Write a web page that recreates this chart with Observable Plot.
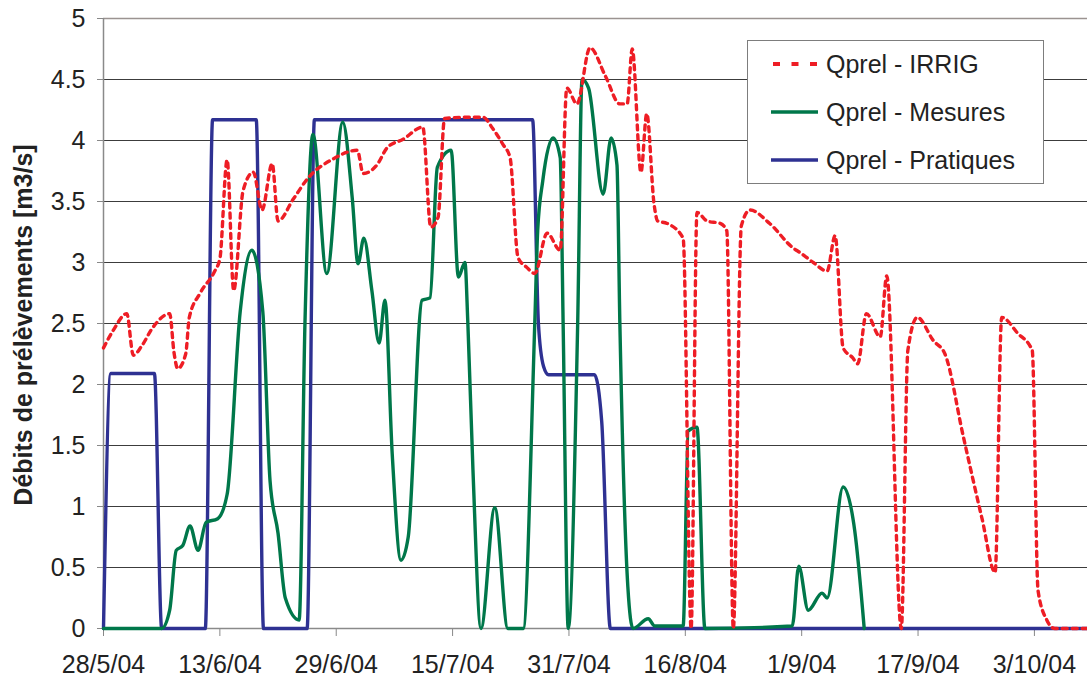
<!DOCTYPE html>
<html>
<head>
<meta charset="utf-8">
<script src="https://cdn.jsdelivr.net/npm/d3@7"></script>
<script src="https://cdn.jsdelivr.net/npm/@observablehq/plot@0.6"></script>
<style>
  html, body { margin: 0; padding: 0; background: #fff; }
  #wrap { position: relative; width: 1087px; height: 679px; font-family: "Liberation Sans", Arial, Helvetica, sans-serif; color: #222; }
  #wrap svg text { font-family: "Liberation Sans", Arial, Helvetica, sans-serif; }
  #wrap g[aria-label="x-axis tick"], #wrap g[aria-label="y-axis tick"] { stroke: #888; }
  #legend { position: absolute; left: 747px; top: 40px; width: 297px; height: 144px; box-sizing: border-box; border: 1.5px solid #7d7d7d; background: #fff; }
  #ylabel { position: absolute; left: 0; top: 0; }
</style>
</head>
<body>
<div id="wrap"></div>
<script>
// ---- data (day offsets from 28/5/2004, values in m3/s) ----
const startDate = "28/5/04";
const endDay = 135.3;

const xTickLabels = ["28/5/04", "13/6/04", "29/6/04", "15/7/04", "31/7/04", "16/8/04", "1/9/04", "17/9/04", "3/10/04"];
const yTicks = [0, 0.5, 1, 1.5, 2, 2.5, 3, 3.5, 4, 4.5, 5];

const seriesNames = ["Qprel - IRRIG", "Qprel - Mesures", "Qprel - Pratiques"];
const seriesColors = ["#EE1D25", "#00774A", "#2E3192"];

const irrigDays = [0, 1.3, 3.2, 4.1, 5.3, 6.7, 9.1, 9.7, 10.2, 11.3, 11.8, 13.3, 15.3, 16.0, 17.0, 17.9, 19.2, 20.6, 21.8, 23.2, 24.0, 26.1, 28.1, 31.6, 34.9, 35.7, 37.6, 39.0, 41.2, 43.9, 45.0, 46.0, 46.9, 49.7, 52.2, 53.5, 54.9, 55.9, 57.0, 58.2, 59.3, 61.0, 62.8, 63.7, 65.1, 66.9, 69.0, 71.0, 72.0, 72.7, 73.9, 74.7, 75.7, 76.2, 77.5, 79.7, 80.8, 81.6, 83.0, 84.8, 85.7, 86.6, 87.7, 88.9, 91.6, 94.8, 95.8, 97.6, 99.5, 100.6, 101.7, 103.0, 103.7, 104.9, 106.8, 107.7, 109.7, 110.6, 111.9, 114.1, 115.7, 118.2, 120.8, 122.6, 123.5, 125.7, 127.7, 128.5, 129.7, 130.8, 135.3];
const irrigValues = [2.3, 2.44, 2.58, 2.24, 2.32, 2.46, 2.58, 2.26, 2.13, 2.25, 2.55, 2.75, 2.93, 3.03, 3.84, 2.77, 3.59, 3.74, 3.43, 3.81, 3.34, 3.52, 3.69, 3.85, 3.92, 3.73, 3.8, 3.94, 4.01, 4.11, 3.29, 3.37, 4.18, 4.19, 4.19, 4.1, 3.97, 3.86, 3.04, 2.96, 2.91, 3.24, 3.1, 4.43, 4.3, 4.76, 4.53, 4.3, 4.3, 4.75, 3.74, 4.22, 3.48, 3.34, 3.32, 3.2, 0, 3.41, 3.34, 3.32, 3.26, 0, 3.3, 3.43, 3.32, 3.12, 3.08, 3.0, 2.93, 3.22, 2.3, 2.22, 2.17, 2.58, 2.39, 2.89, 0, 2.28, 2.55, 2.36, 2.25, 1.58, 0.9, 0.46, 2.55, 2.42, 2.28, 0.31, 0.07, 0, 0];

const mesuresDays = [0, 8.0, 9.1, 10.0, 10.9, 11.9, 13.0, 14.1, 15.7, 17.0, 18.8, 20.4, 21.9, 22.9, 24.0, 25.0, 26.9, 27.7, 28.8, 30.7, 32.9, 34.2, 35.0, 35.8, 36.9, 37.9, 38.7, 39.7, 40.9, 41.9, 43.8, 44.9, 45.9, 47.8, 48.8, 49.7, 50.1, 50.8, 51.9, 53.8, 55.6, 57.7, 59.3, 59.7, 60.4, 61.8, 62.8, 63.2, 63.9, 65.2, 65.8, 66.7, 68.7, 69.8, 70.6, 71.0, 72.1, 72.8, 74.9, 75.8, 79.7, 80.4, 81.6, 82.7, 94.7, 95.6, 96.9, 98.8, 99.5, 101.7, 103.3, 104.6];
const mesuresValues = [0, 0, 0.15, 0.64, 0.68, 0.84, 0.64, 0.87, 0.9, 1.1, 2.6, 3.1, 2.6, 1.21, 0.78, 0.25, 0.07, 2.5, 4.05, 2.91, 4.15, 3.53, 2.99, 3.2, 2.77, 2.34, 2.69, 1.43, 0.56, 0.75, 2.69, 2.71, 3.78, 3.92, 2.88, 3.0, 2.5, 1.3, 0, 0.99, 0, 0, 2.5, 3.26, 3.67, 4.02, 3.86, 2.5, 0, 2.5, 4.5, 4.43, 3.56, 4.02, 3.8, 2.5, 0.34, 0, 0.08, 0.02, 0.02, 1.62, 1.65, 0, 0.02, 0.51, 0.15, 0.29, 0.25, 1.16, 0.8, 0];

const pratiquesDays = [0, 1, 7, 8, 14, 15, 21, 22, 28, 29, 59, 59.8, 60.5, 61.2, 67.5, 68.5, 69.7, 135.3];
const pratiquesValues = [0, 2.09, 2.09, 0, 0, 4.17, 4.17, 0, 0, 4.17, 4.17, 2.5, 2.15, 2.08, 2.08, 1.7, 0, 0];

// ---- build ----
const parseDate = d3.utcParse("%d/%m/%y");
const t0 = parseDate(startDate);
const toDate = d => new Date(t0.getTime() + d * 864e5);
const rows = (days, vals) => days.map((d, i) => ({date: toDate(d), value: vals[i]}));

const irrig = rows(irrigDays, irrigValues);
const mesures = rows(mesuresDays, mesuresValues);
const pratiques = rows(pratiquesDays, pratiquesValues);
const xTicks = xTickLabels.map(parseDate);

const chart = Plot.plot({
  width: 1087,
  height: 679,
  marginLeft: 103,
  marginRight: 0,
  marginTop: 18,
  marginBottom: 51,
  style: {fontFamily: '"Liberation Sans", Arial, sans-serif', fontSize: "25px", color: "#222", background: "#fff", overflow: "visible"},
  x: {type: "utc", domain: [t0, toDate(endDay)], ticks: xTicks, tickSize: 8, tickPadding: 19,
      tickFormat: d3.utcFormat("%-d/%-m/%y"), label: null},
  y: {domain: [0, 5], ticks: yTicks, tickSize: 6, tickPadding: 12, tickFormat: d => String(d), label: null},
  marks: [
    Plot.ruleY(yTicks.filter(v => v > 0 && v < 5), {stroke: "#3c3c3c", strokeWidth: 1}),
    Plot.ruleY([5], {stroke: "#9b9391", strokeWidth: 1.5}),
    Plot.ruleX([t0], {stroke: "#8a8a8a", strokeWidth: 1.5}),
    Plot.ruleY([0], {stroke: "#8a8a8a", strokeWidth: 1.5}),
    Plot.line(pratiques, {x: "date", y: "value", stroke: seriesColors[2], strokeWidth: 3.4, curve: "monotone-x"}),
    Plot.line(mesures, {x: "date", y: "value", stroke: seriesColors[1], strokeWidth: 3.4, curve: "monotone-x"}),
    Plot.line(irrig, {x: "date", y: "value", stroke: seriesColors[0], strokeWidth: 3.4, strokeDasharray: "5,5", curve: "monotone-x"})
  ]
});

const wrap = document.getElementById("wrap");
wrap.appendChild(chart);

// y-axis title
const ns = "http://www.w3.org/2000/svg";
const ylab = document.createElementNS(ns, "svg");
ylab.setAttribute("id", "ylabel");
ylab.setAttribute("width", "50");
ylab.setAttribute("height", "679");
const yt = document.createElementNS(ns, "text");
yt.setAttribute("transform", "translate(23,325) rotate(-90)");
yt.setAttribute("text-anchor", "middle");
yt.setAttribute("dominant-baseline", "central");
yt.setAttribute("font-size", "25");
yt.setAttribute("font-weight", "bold");
yt.setAttribute("fill", "#222");
yt.textContent = "Débits de prélèvements [m3/s]";
ylab.appendChild(yt);
wrap.appendChild(ylab);

// legend
const legend = document.createElement("div");
legend.id = "legend";
const lsvg = document.createElementNS(ns, "svg");
lsvg.setAttribute("width", "294");
lsvg.setAttribute("height", "141");
seriesNames.forEach((name, i) => {
  const cy = 23 + i * 48;
  const ln = document.createElementNS(ns, "line");
  ln.setAttribute("x1", i === 0 ? 25 : 23);
  ln.setAttribute("x2", 70);
  ln.setAttribute("y1", cy);
  ln.setAttribute("y2", cy);
  ln.setAttribute("stroke", seriesColors[i]);
  ln.setAttribute("stroke-width", i === 0 ? 4 : 3.5);
  if (i === 0) ln.setAttribute("stroke-dasharray", "7,11.5");
  lsvg.appendChild(ln);
  const tx = document.createElementNS(ns, "text");
  tx.setAttribute("x", 78);
  tx.setAttribute("y", cy);
  tx.setAttribute("dy", "0.36em");
  tx.setAttribute("font-size", "25");
  tx.setAttribute("fill", "#222");
  tx.textContent = name;
  lsvg.appendChild(tx);
});
legend.appendChild(lsvg);
wrap.appendChild(legend);
</script>
</body>
</html>
